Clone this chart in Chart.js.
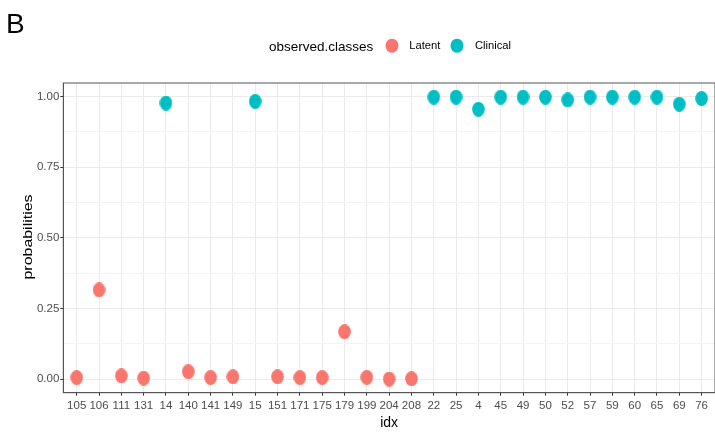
<!DOCTYPE html>
<html>
<head>
<meta charset="utf-8">
<script src="https://cdn.jsdelivr.net/npm/chart.js@4.4.1/dist/chart.umd.min.js"></script>
<style>
  html, body { margin: 0; padding: 0; background: #fff; overflow: hidden; width: 715px; height: 432px; }
  #wrap { position: relative; width: 715px; height: 432px; overflow: hidden; font-family: "Liberation Sans", Arial, sans-serif; }
  #c { position: absolute; left: 0; top: 0; }
  .txt { position: absolute; white-space: nowrap; line-height: 1; }
  .key { position: absolute; width: 13px; height: 14.5px; border-radius: 50%; transform: translate(-50%, -50%); }
</style>
</head>
<body>
<div id="wrap">
  <canvas id="c" width="720" height="432"></canvas>
  <div class="txt" id="panelTag" style="left:6px; top:10px; font-size:28px; color:#000;">B</div>
  <div class="txt" id="legendTitle" style="left:269px; top:40.3px; font-size:13.5px; color:#000;">observed.classes</div>
  <div class="key" id="keyLatent" style="left:391.7px; top:45.7px;"></div>
  <div class="txt" id="labLatent" style="left:409.3px; top:40.3px; font-size:11.2px; color:#000;">Latent</div>
  <div class="key" id="keyClinical" style="left:457.3px; top:45.7px;"></div>
  <div class="txt" id="labClinical" style="left:475px; top:40.3px; font-size:11.2px; color:#000;">Clinical</div>
  <div class="txt" id="yTitle" style="left:27.5px; top:236.7px; font-size:13.5px; color:#000; transform: translate(-50%, -50%) rotate(-90deg) scaleX(1.18);">probabilities</div>
</div>
<script>
// x-axis categories (sample idx, sorted as strings)
const categories = ['105','106','111','131','14','140','141','149','15','151','171','175','179','199','204','208','22','25','4','45','49','50','52','57','59','60','65','69','76'];

// Latent class samples and their predicted probabilities
const latentIdx  = ['105','106','111','131','140','141','149','151','171','175','179','199','204','208'];
const latentProb = [0.006, 0.316, 0.012, 0.004, 0.027, 0.006, 0.009, 0.009, 0.006, 0.006, 0.168, 0.007, 0.001, 0.002];

// Clinical class samples and their predicted probabilities
const clinicalIdx  = ['14','15','22','25','4','45','49','50','52','57','59','60','65','69','76'];
const clinicalProb = [0.977, 0.983, 0.998, 0.998, 0.955, 0.998, 0.998, 0.998, 0.988, 0.998, 0.998, 0.998, 0.998, 0.973, 0.993];

// y-axis break values (major with labels, minor in between)
const yMajor = [0, 0.25, 0.5, 0.75, 1];
const yMinor = [0.125, 0.375, 0.625, 0.875];

const COL_LATENT = '#F8766D';
const COL_CLINICAL = '#00BFC4';

document.getElementById('keyLatent').style.background = COL_LATENT;
document.getElementById('keyClinical').style.background = COL_CLINICAL;

// slightly tall ellipse used as the point marker
function ellipseMarker(color) {
  const cv = document.createElement('canvas');
  cv.width = 13; cv.height = 15;
  const g = cv.getContext('2d');
  g.fillStyle = color;
  g.beginPath();
  g.ellipse(6.5, 7.5, 6.3, 7.4, 0, 0, Math.PI * 2);
  g.fill();
  return cv;
}

function toPoints(idx, vals) {
  return idx.map((k, i) => ({ x: categories.indexOf(k), y: vals[i] }));
}

const isMajor = v => yMajor.some(m => Math.abs(m - v) < 1e-9);

// frame around the plotting panel
const panelFrame = {
  id: 'panelFrame',
  afterDraw(chart) {
    const { ctx, chartArea: a } = chart;
    ctx.save();
    ctx.strokeStyle = '#555';
    ctx.lineWidth = 1;
    ctx.strokeRect(a.left, a.top, a.right - a.left, a.bottom - a.top);
    ctx.restore();
  }
};

Chart.defaults.font.family = '"Liberation Sans", Arial, sans-serif';

new Chart(document.getElementById('c'), {
  type: 'scatter',
  data: {
    datasets: [
      { label: 'Latent', data: toPoints(latentIdx, latentProb), pointStyle: ellipseMarker(COL_LATENT), backgroundColor: COL_LATENT },
      { label: 'Clinical', data: toPoints(clinicalIdx, clinicalProb), pointStyle: ellipseMarker(COL_CLINICAL), backgroundColor: COL_CLINICAL }
    ]
  },
  options: {
    responsive: false,
    animation: false,
    events: [],
    layout: { padding: { top: 83, right: 3.3, left: 0, bottom: 0 } },
    plugins: { legend: { display: false }, tooltip: { enabled: false } },
    scales: {
      x: {
        type: 'linear',
        min: -0.6,
        max: categories.length - 1 + 0.6,
        afterBuildTicks(scale) { scale.ticks = categories.map((c, i) => ({ value: i })); },
        afterFit(scale) { scale.height = 39.3; },
        ticks: {
          autoSkip: false,
          maxRotation: 0,
          padding: 3,
          color: '#4D4D4D',
          font: { size: 11.5 },
          callback: v => categories[v]
        },
        grid: { color: '#EBEBEB', lineWidth: 1, tickLength: 3, tickColor: '#333' },
        border: { color: '#555', width: 1 },
        title: { display: true, text: 'idx', color: '#000', font: { size: 14 }, padding: { top: 0, bottom: 0.2 } }
      },
      y: {
        type: 'linear',
        min: -0.0474,
        max: 1.048,
        afterBuildTicks(scale) {
          scale.ticks = [...yMajor, ...yMinor].sort((a, b) => a - b).map(v => ({ value: v }));
        },
        afterFit(scale) { scale.width = 63.3; },
        ticks: {
          padding: 1,
          color: '#4D4D4D',
          font: { size: 11.5 },
          callback: v => isMajor(v) ? v.toFixed(2) : ''
        },
        grid: {
          color: c => isMajor(c.tick.value) ? '#EBEBEB' : '#F4F4F4',
          lineWidth: 1,
          tickLength: 3,
          tickColor: c => isMajor(c.tick.value) ? '#333' : 'rgba(0,0,0,0)'
        },
        border: { color: '#555', width: 1 },
        title: { display: false }
      }
    }
  },
  plugins: [panelFrame]
});
</script>
</body>
</html>
